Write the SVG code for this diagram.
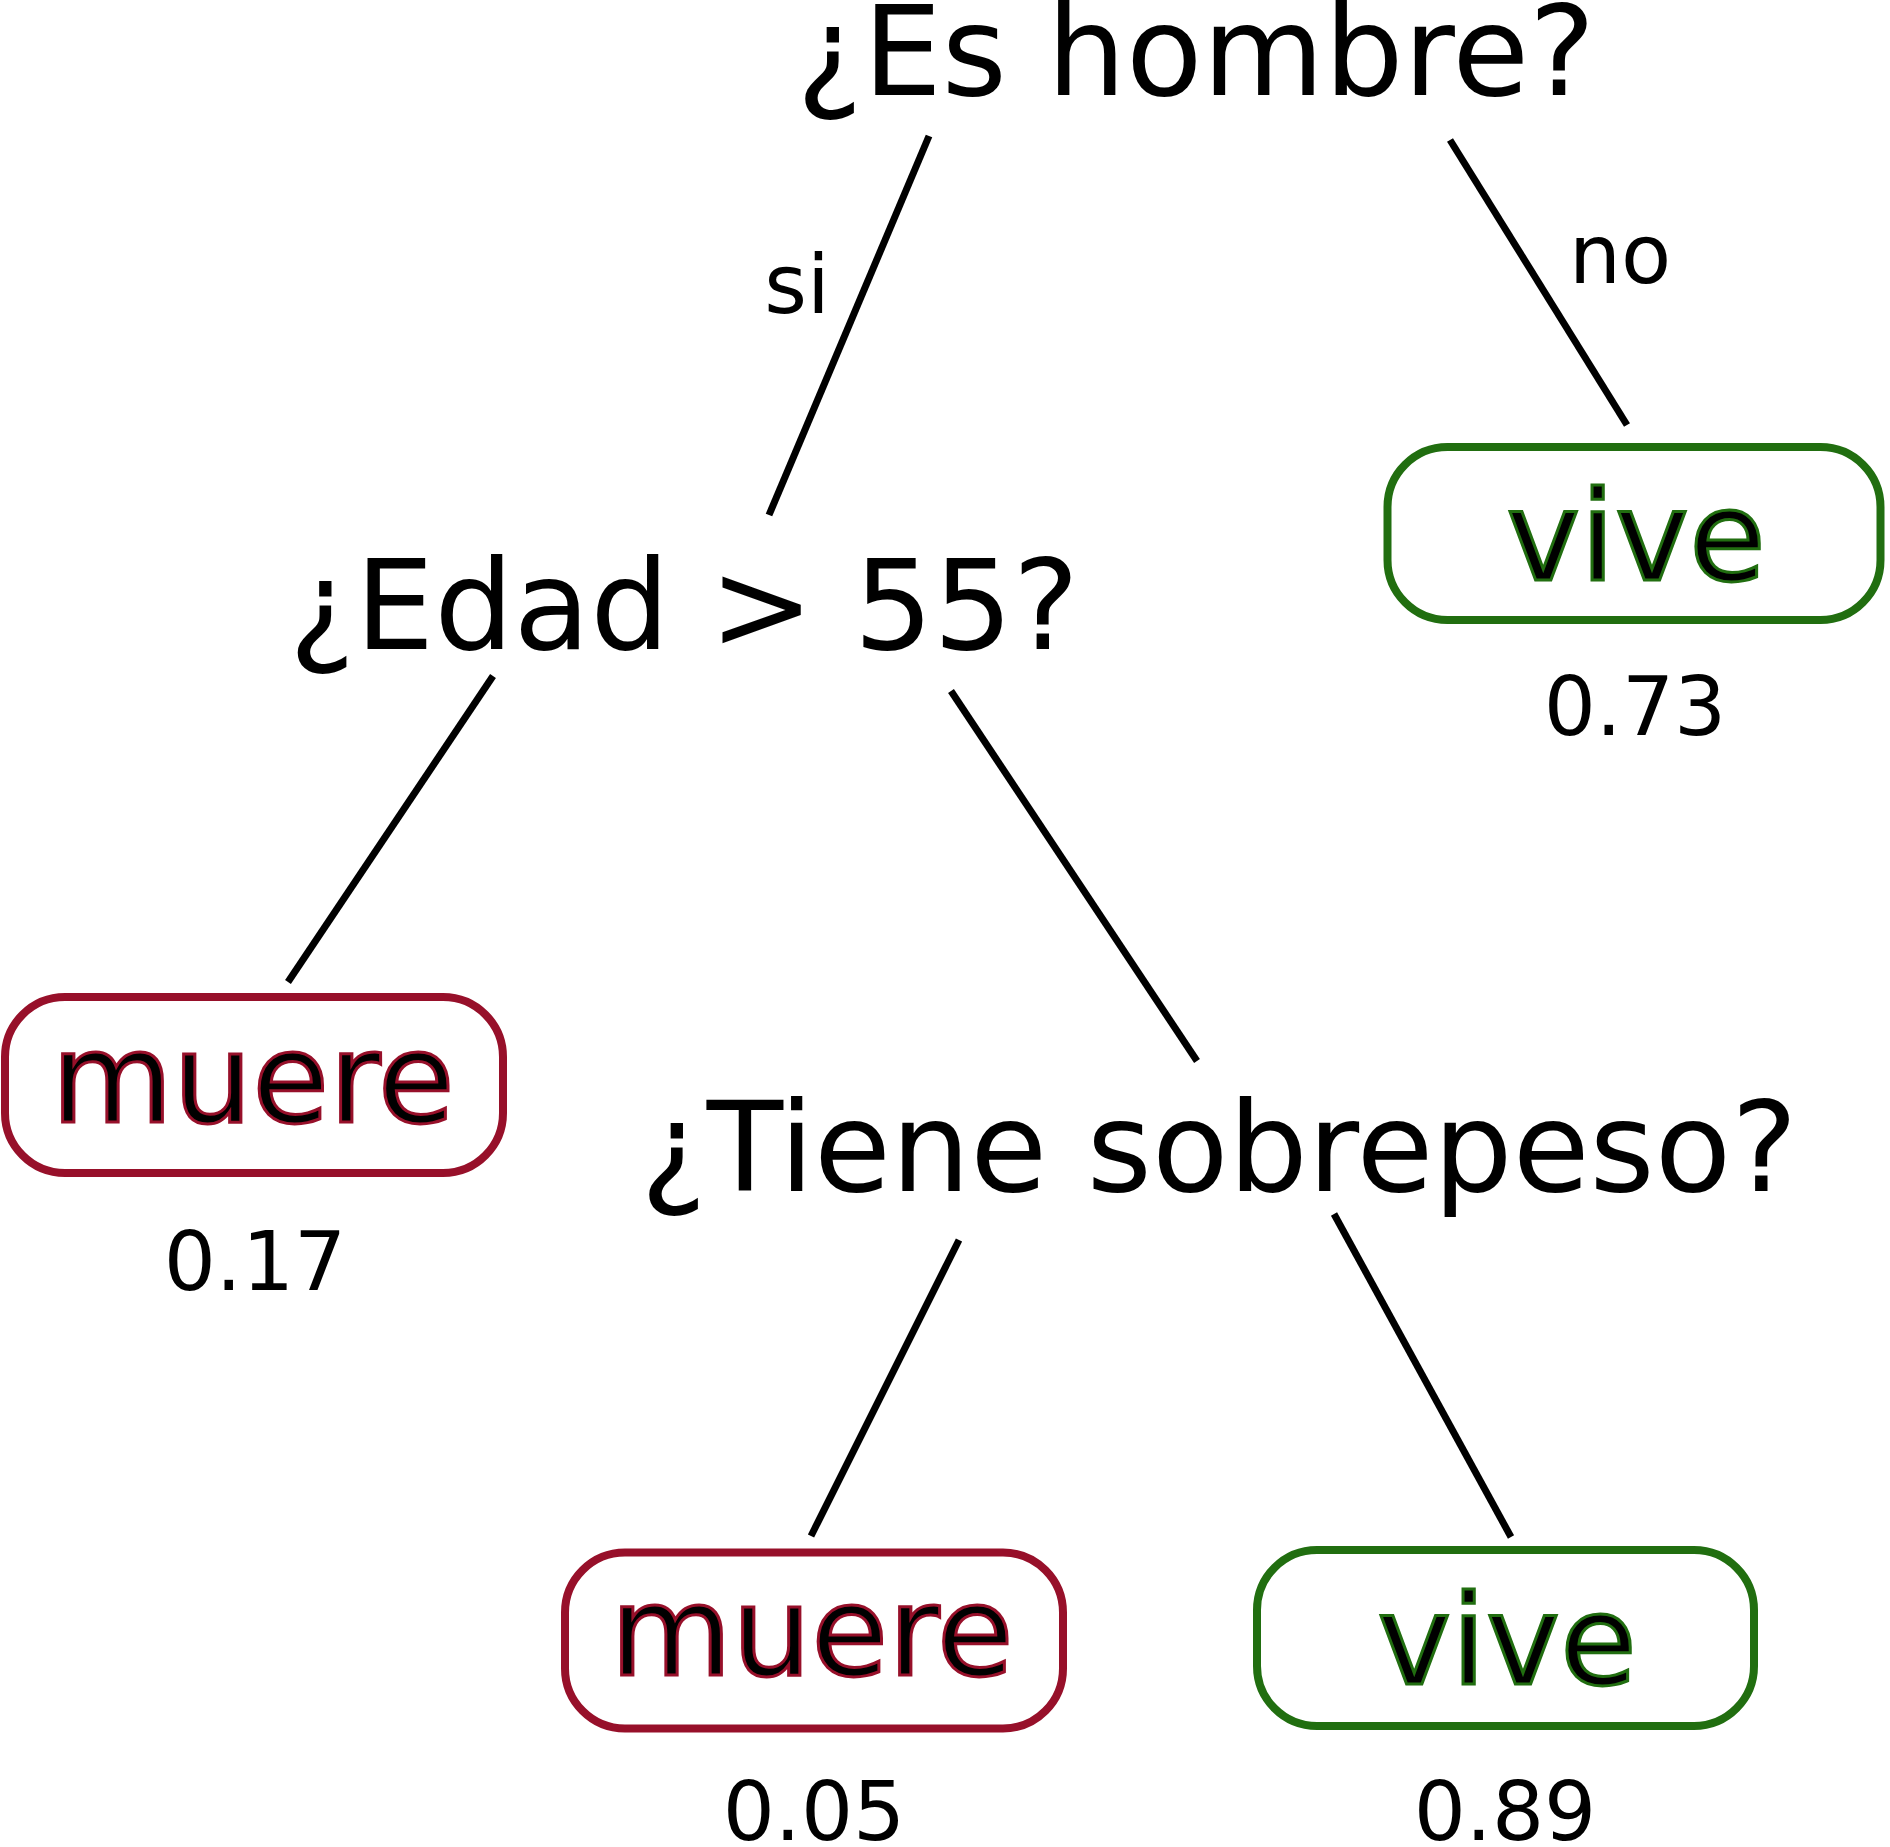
<svg xmlns="http://www.w3.org/2000/svg" width="1890" height="1847" viewBox="0 0 1890 1847">
<style>
.q{font-family:"DejaVu Sans","Liberation Sans",sans-serif;font-size:125px;fill:#000;text-anchor:middle}
.lbl{font-family:"DejaVu Sans","Liberation Sans",sans-serif;font-size:82px;fill:#000;text-anchor:middle}
.leaf{font-family:"DejaVu Sans","Liberation Sans",sans-serif;font-size:125px;fill:#000;text-anchor:middle;stroke-width:3}
.die rect{fill:#fff;stroke:#97102A;stroke-width:8}
.die text{stroke:#97102A}
.live rect{fill:#fff;stroke:#216E10;stroke-width:8}
.live text{stroke:#216E10}
.edge{stroke:#000;stroke-width:7;fill:none}
</style>
<rect width="1890" height="1847" fill="#fff"/>
<g id="connectors">
<line class="edge" x1="929" y1="136" x2="769" y2="515"/>
<line class="edge" x1="1450" y1="140" x2="1627" y2="425"/>
<line class="edge" x1="493" y1="676" x2="288" y2="982"/>
<line class="edge" x1="951" y1="691" x2="1197" y2="1061"/>
<line class="edge" x1="959" y1="1240" x2="811" y2="1536"/>
<line class="edge" x1="1334" y1="1214" x2="1511" y2="1537"/>
<text class="lbl" x="797" y="313">si</text>
<text class="lbl" x="1620" y="283">no</text>
</g>
<g id="n-hombre"><text class="q" x="1196" y="95">¿Es hombre?</text></g>
<g id="n-edad"><text class="q" x="684" y="649">¿Edad &gt; 55?</text></g>
<g id="n-sobrepeso"><text class="q" x="1219" y="1191">¿Tiene sobrepeso?</text></g>
<g id="leaf-vive-1" class="live">
<rect x="1387.5" y="447" width="493" height="173" rx="60"/>
<text class="leaf" x="1636" y="580">vive</text>
</g>
<text class="lbl" x="1635" y="735">0.73</text>
<g id="leaf-muere-1" class="die">
<rect x="5" y="997" width="498" height="176" rx="60"/>
<text class="leaf" x="253" y="1122">muere</text>
</g>
<text class="lbl" x="255" y="1290">0.17</text>
<g id="leaf-muere-2" class="die">
<rect x="565" y="1552.5" width="498" height="176" rx="60"/>
<text class="leaf" x="812" y="1675">muere</text>
</g>
<text class="lbl" x="814" y="1840">0.05</text>
<g id="leaf-vive-2" class="live">
<rect x="1257" y="1550" width="497" height="176" rx="60"/>
<text class="leaf" x="1507" y="1684">vive</text>
</g>
<text class="lbl" x="1505" y="1840">0.89</text>
</svg>
